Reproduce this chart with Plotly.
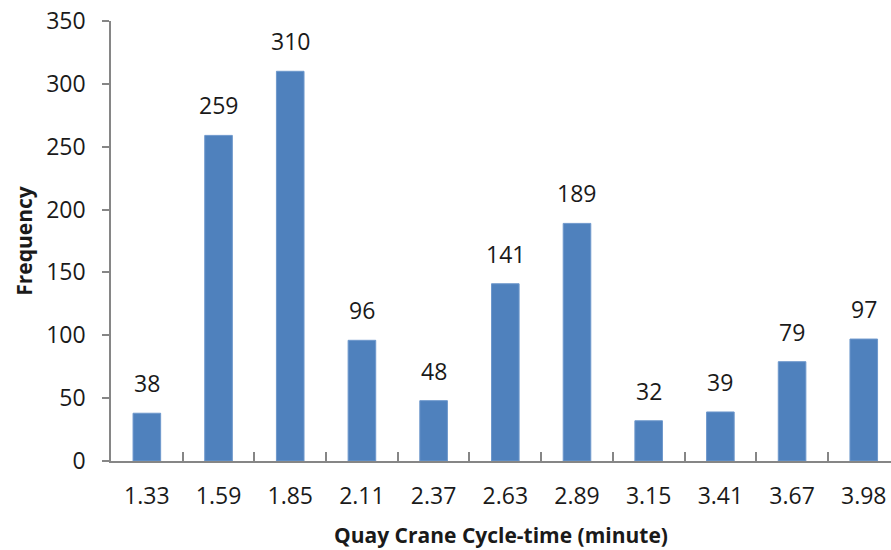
import plotly.graph_objects as go

# Cycle-time bins (minutes) and observed frequencies
cycle_times = ["1.33", "1.59", "1.85", "2.11", "2.37", "2.63", "2.89", "3.15", "3.41", "3.67", "3.98"]
frequencies = [38, 259, 310, 96, 48, 141, 189, 32, 39, 79, 97]
y_ticks = [0, 50, 100, 150, 200, 250, 300, 350]

FONT = "Open Sans"
AXIS_GREY = "#868686"
TEXT = "#1a1a1a"

fig = go.Figure(
    go.Bar(
        x=cycle_times,
        y=frequencies,
        marker=dict(color="#4F81BD", line=dict(color="#6E98CC", width=1)),
        hoverinfo="x+y",
    )
)

# value labels above each bar (positioned by category index)
for idx, val in enumerate(frequencies):
    fig.add_annotation(
        x=idx, y=val, xref="x", yref="y", text=str(val), showarrow=False,
        yanchor="bottom", yshift=12,
        font=dict(family=FONT, size=23, color=TEXT),
    )

fig.update_layout(
    width=891, height=550,
    margin=dict(l=111, r=0, t=21, b=89),
    paper_bgcolor="white", plot_bgcolor="white",
    bargap=0.615,
    showlegend=False,
    font=dict(family=FONT, size=23, color=TEXT),
)

fig.update_xaxes(
    type="category",
    range=[-0.5, 10.38],
    showline=True, linecolor=AXIS_GREY, linewidth=1.5,
    ticks="inside", tickson="boundaries", ticklen=9, tickcolor=AXIS_GREY, tickwidth=1.5,
    ticklabelstandoff=14,
    showgrid=False, zeroline=False,
    tickfont=dict(family=FONT, size=23, color=TEXT),
    title=dict(text="<b>Quay Crane Cycle-time (minute)</b>",
               font=dict(family=FONT, size=21, color=TEXT), standoff=18),
)

fig.update_yaxes(
    range=[0, 350],
    tickvals=y_ticks,
    showline=True, linecolor=AXIS_GREY, linewidth=1.5,
    ticks="outside", ticklen=7, tickcolor=AXIS_GREY, tickwidth=1.5,
    ticklabelstandoff=12,
    showgrid=False, zeroline=False,
    tickfont=dict(family=FONT, size=23, color=TEXT),
    title=dict(text="<b>Frequency</b>",
               font=dict(family=FONT, size=21, color=TEXT), standoff=8),
)

fig.write_html("out.html")
